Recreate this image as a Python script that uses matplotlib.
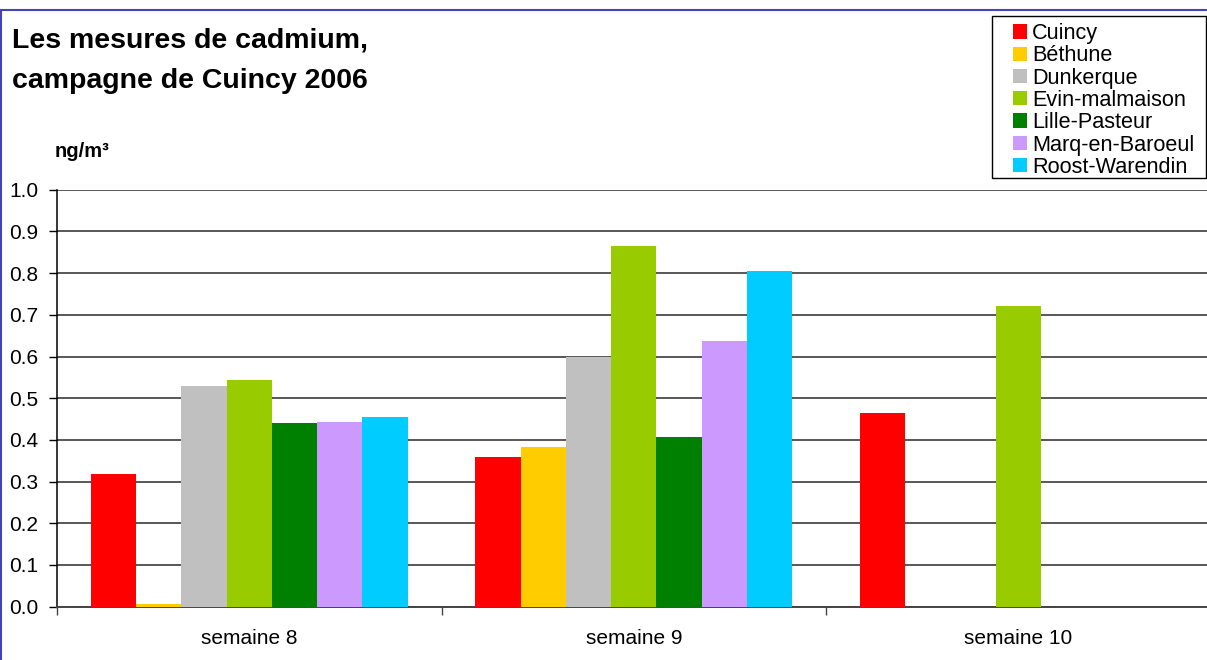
import numpy as np
import matplotlib
matplotlib.use("Agg")
import matplotlib.pyplot as plt
from matplotlib.lines import Line2D
from matplotlib.patches import Rectangle

plt.rcParams['font.family'] = ['Liberation Sans', 'DejaVu Sans']

# Data
weeks = ["semaine 8", "semaine 9", "semaine 10"]
stations = ["Cuincy", "Béthune", "Dunkerque", "Evin-malmaison",
            "Lille-Pasteur", "Marq-en-Baroeul", "Roost-Warendin"]
cuincy = [0.318, 0.359, 0.465]
bethune = [0.007, 0.383, np.nan]
dunkerque = [0.529, 0.598, np.nan]
evin = [0.544, 0.865, 0.721]
lille = [0.440, 0.407, np.nan]
marq = [0.443, 0.637, np.nan]
roost = [0.455, 0.805, np.nan]
series = [cuincy, bethune, dunkerque, evin, lille, marq, roost]
colors = ["#FF0000", "#FFCC00", "#C0C0C0", "#99CC00",
          "#008000", "#CC99FF", "#00CCFF"]
yticks = [0.0, 0.1, 0.2, 0.3, 0.4, 0.5, 0.6, 0.7, 0.8, 0.9, 1.0]

W, H = 1207, 660
fig = plt.figure(figsize=(W / 100, H / 100), dpi=100)
ax = fig.add_axes([57 / W, 53.3 / H, 1153.5 / W, 417 / H])

n = len(series)
gap = 1.5
bw = 1.0 / (n + gap)
x0 = np.arange(len(weeks)) + gap / 2 * bw
handles = []
for k, (vals, c) in enumerate(zip(series, colors)):
    b = ax.bar(x0 + k * bw, vals, width=bw, align='edge', color=c,
               edgecolor='none', zorder=3, label=stations[k])
    handles.append(b)

ax.set_xlim(0, len(weeks))
ax.set_ylim(0, 1.0)
ax.set_yticks(yticks)
ax.set_yticklabels([f"{v:.1f}" for v in yticks], fontsize=15)
ax.yaxis.grid(True, color="#2a2a2a", linewidth=1.1, zorder=0)
ax.set_axisbelow(True)

# Category boundaries as major ticks, week names centred as minor ticks
ax.set_xticks(np.arange(len(weeks) + 1))
ax.set_xticklabels([])
ax.set_xticks(np.arange(len(weeks)) + 0.5, minor=True)
ax.set_xticklabels(weeks, minor=True, fontsize=15)
ax.tick_params(axis='x', which='major', length=5.5, width=1, color="#444444")
ax.tick_params(axis='x', which='minor', length=0, pad=16)
ax.tick_params(axis='y', length=5.5, width=1, pad=8)

for s in ("top", "right"):
    ax.spines[s].set_visible(False)
ax.spines["left"].set_color("black")
ax.spines["left"].set_linewidth(1.1)
ax.spines["bottom"].set_color("#444444")
ax.spines["bottom"].set_linewidth(1.4)

# Titles
fig.text(12 / W, 1 - 48 / H, "Les mesures de cadmium,", fontsize=20.5,
         fontweight='bold', va='baseline', ha='left')
fig.text(12 / W, 1 - 87.5 / H, "campagne de Cuincy 2006", fontsize=20.5,
         fontweight='bold', va='baseline', ha='left')
fig.text(55 / W, 1 - 157 / H, "ng/m³", fontsize=14.5,
         fontweight='bold', va='baseline', ha='left')

# Legend with its own rectangular box
leg = fig.legend(handles, stations, loc='upper left',
                 bbox_to_anchor=(1013 / W, 1 - 23 / H),
                 fontsize=15.6, frameon=False,
                 handlelength=0.64, handleheight=0.64,
                 handletextpad=0.25, labelspacing=0.06,
                 borderpad=0, borderaxespad=0)
fig.add_artist(Rectangle((992 / W, 1 - 178 / H), (1206 - 992) / W,
                         (178 - 16) / H, transform=fig.transFigure,
                         fill=False, edgecolor='black', linewidth=1.0))

# Outer chart frame (only top and left edges fall inside the image)
frame_col = "#4444B4"
fig.add_artist(Line2D([1 / W, 1 / W], [0, 1 - 10 / H], color=frame_col,
                      linewidth=1.5, transform=fig.transFigure))
fig.add_artist(Line2D([1 / W, 1], [1 - 10 / H, 1 - 10 / H], color=frame_col,
                      linewidth=1.5, transform=fig.transFigure))

fig.savefig("out.png", dpi=100)
